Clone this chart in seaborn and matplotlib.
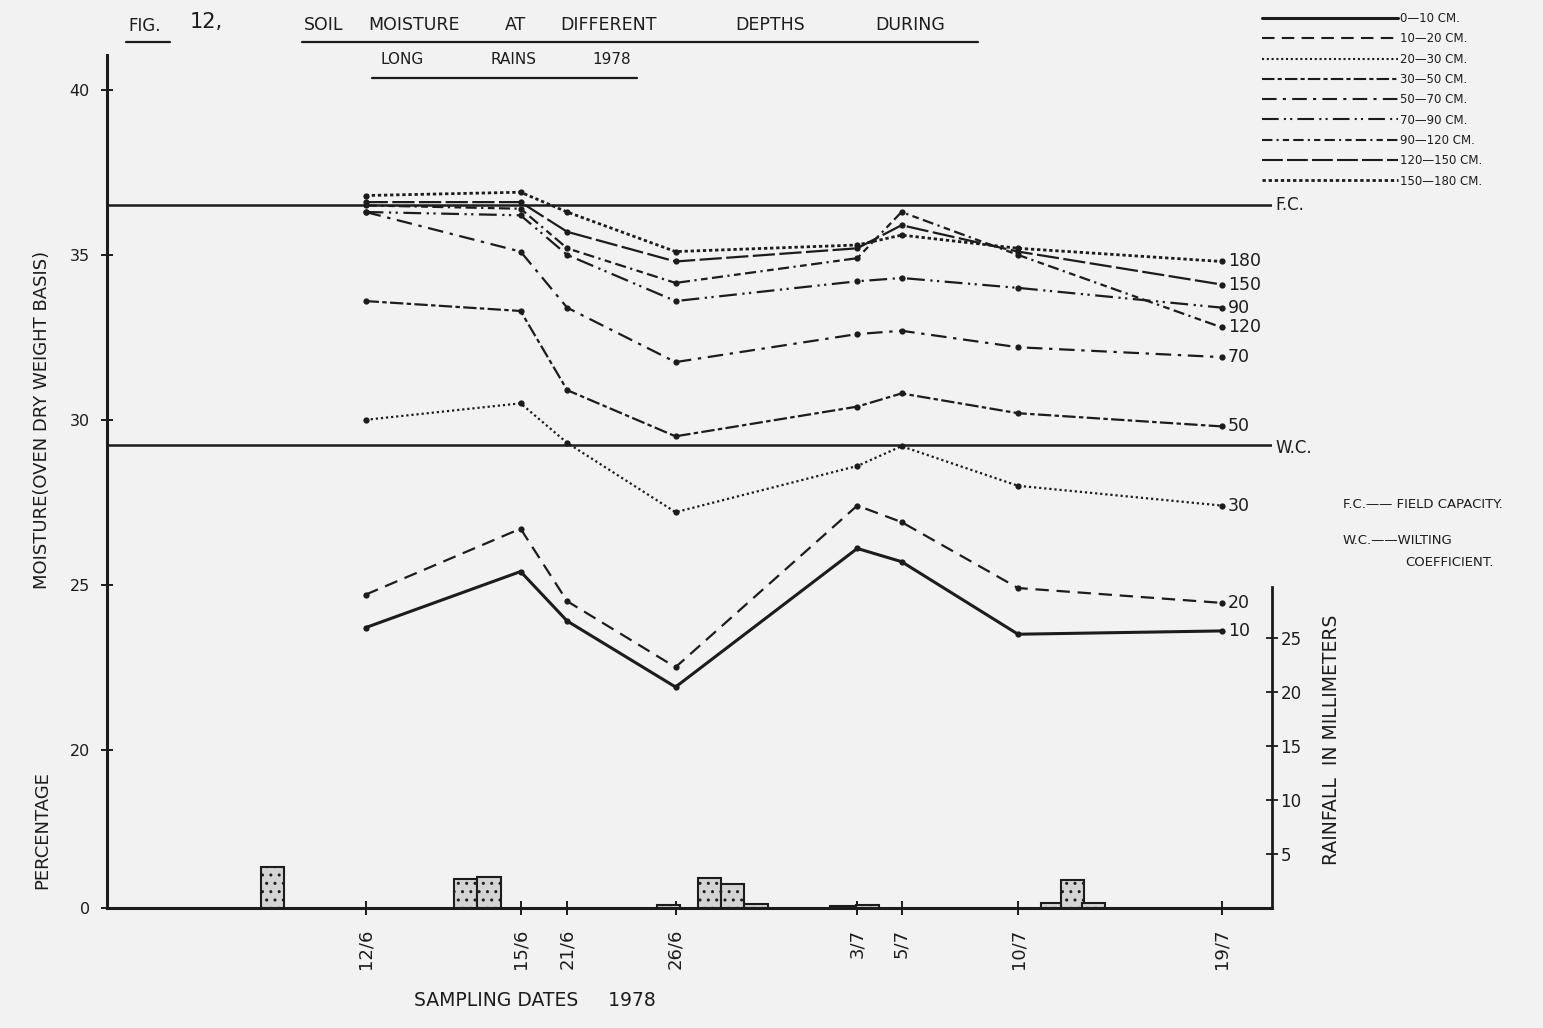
import numpy as np
import pandas as pd
import seaborn as sns
import matplotlib.pyplot as plt
from matplotlib.lines import Line2D

sns.set_theme(style="white")
plt.rcParams["font.family"] = ["DejaVu Sans"]

# sampling dates and where they sit along the hand-drawn date axis (0-100)
dates = ["12/6", "15/6", "21/6", "26/6", "3/7", "5/7", "10/7", "19/7"]
date_pos = [22.2, 35.5, 39.5, 48.8, 64.4, 68.2, 78.2, 95.7]

# percentage moisture at each depth
m_10 = [23.7, 25.4, 23.9, 21.9, 26.1, 25.7, 23.5, 23.6]
m_20 = [24.7, 26.7, 24.5, 22.5, 27.4, 26.9, 24.9, 24.45]
m_30 = [30.0, 30.5, 29.3, 27.2, 28.6, 29.2, 28.0, 27.4]
m_50 = [33.6, 33.3, 30.9, 29.5, 30.4, 30.8, 30.2, 29.8]
m_70 = [36.3, 35.1, 33.4, 31.75, 32.6, 32.7, 32.2, 31.9]
m_90 = [36.3, 36.2, 35.0, 33.6, 34.2, 34.3, 34.0, 33.4]
m_120 = [36.5, 36.4, 35.2, 34.15, 34.9, 36.3, 35.0, 32.8]
m_150 = [36.6, 36.6, 35.7, 34.8, 35.2, 35.9, 35.1, 34.1]
m_180 = [36.8, 36.9, 36.3, 35.1, 35.3, 35.6, 35.2, 34.8]

depths = ["0-10", "10-20", "20-30", "30-50", "50-70", "70-90", "90-120", "120-150", "150-180"]
legend_labels = ["0—10 CM.", "10—20 CM.", "20—30 CM.", "30—50 CM.", "50—70 CM.",
                 "70—90 CM.", "90—120 CM.", "120—150 CM.", "150—180 CM."]
end_labels = ["10", "20", "30", "50", "70", "90", "120", "150", "180"]

# daily rainfall (mm), left edge of each bar on the date axis
rain_pos = [13.2, 29.8, 31.8, 47.2, 50.7, 52.7, 54.7, 62.1, 64.3, 80.2, 81.9, 83.7]
rain_mm = [3.8, 2.7, 2.9, 0.25, 2.8, 2.2, 0.4, 0.2, 0.3, 0.5, 2.6, 0.5]

fc_level = 36.5
wc_level = 29.25

series = [m_10, m_20, m_30, m_50, m_70, m_90, m_120, m_150, m_180]
df = pd.DataFrame({
    "pos": date_pos * len(series),
    "moisture": np.concatenate(series),
    "depth": np.repeat(depths, len(date_pos)),
})

ink = "#1c1c1c"
paper = "#f2f2f2"
W, H = 1543, 1028


def px(x):
    return x / W


def py(y):
    return 1 - y / H


dash_map = {
    "0-10": "",
    "10-20": (6, 3.5),
    "20-30": (1, 1.3),
    "30-50": (6, 1.5, 2, 1.5),
    "50-70": (7, 3, 1.5, 3),
    "70-90": (8, 2.5, 1, 2, 1, 2.5),
    "90-120": (5, 2, 1, 2, 3, 2),
    "120-150": (10, 2),
    "150-180": (1.2, 1),
}
widths = {"0-10": 2.2, "150-180": 2.0}


# the moisture axis is squeezed below 20 %
def fwd(v):
    v = np.asarray(v, dtype=float)
    return np.where(v < 20, v * 0.24, v - 15.2)


def inv(u):
    u = np.asarray(u, dtype=float)
    return np.where(u < 4.8, u / 0.24, u + 15.2)


fig = plt.figure(figsize=(W / 100, H / 100), dpi=100, facecolor=paper)
ax = fig.add_axes([px(107), py(908), (1272 - 107) / W, (908 - 55) / H])
ax.set_facecolor(paper)
ax.set_yscale("function", functions=(fwd, inv))

sns.lineplot(data=df, x="pos", y="moisture", style="depth", style_order=depths,
             dashes=dash_map, markers={d: "o" for d in depths}, color=ink,
             linewidth=1.6, markersize=4.5, markeredgewidth=0, legend=False,
             sort=False, estimator=None, ax=ax)
for line, d in zip(ax.get_lines(), depths):
    line.set_linewidth(widths.get(d, 1.6))

ax.axhline(fc_level, color=ink, lw=1.8)
ax.axhline(wc_level, color=ink, lw=1.8)
ax.text(100.3, fc_level, "F.C.", va="center", ha="left", fontsize=12, color=ink, clip_on=False)
ax.text(100.3, wc_level - 0.1, "W.C.", va="center", ha="left", fontsize=12, color=ink, clip_on=False)

for lab, s in zip(end_labels, series):
    ax.text(96.2, s[-1], lab, va="center", ha="left", fontsize=12.5, color=ink, clip_on=False)

ax.set_xlim(0, 100)
ax.set_ylim(0, 41.06)
ax.set_yticks([0, 20, 25, 30, 35, 40])
ax.set_xticks(date_pos, dates, rotation=90)
ax.tick_params(axis="y", left=True, direction="inout", length=9, width=1.4,
               labelsize=11.5, pad=8, colors=ink)
ax.tick_params(axis="x", bottom=True, direction="inout", length=10, width=1.4,
               labelsize=13, pad=10, colors=ink)
ax.set_xlabel("")
ax.set_ylabel("")
for side in ["top", "right"]:
    ax.spines[side].set_visible(False)
for side in ["left", "bottom"]:
    ax.spines[side].set_color(ink)
    ax.spines[side].set_linewidth(2.2)

# rainfall on its own scale
ax2 = ax.twinx()
ax2.bar(rain_pos, rain_mm, width=2.0, align="edge", facecolor="#d4d4d4",
        edgecolor=ink, linewidth=1.5, hatch="..")
ax2.set_ylim(0, 79)
ax2.set_yticks([5, 10, 15, 20, 25])
ax2.spines["right"].set_bounds(0, 29.7)
ax2.spines["right"].set_color(ink)
ax2.spines["right"].set_linewidth(2.0)
for side in ["top", "left", "bottom"]:
    ax2.spines[side].set_visible(False)
ax2.tick_params(axis="y", right=True, direction="inout", length=8, width=1.3,
                labelsize=12, pad=2, colors=ink)
ax2.set_ylabel("RAINFALL  IN MILLIMETERS", fontsize=13.5, color=ink)
ax2.yaxis.set_label_coords(1.043, 0.197)

# titles and axis captions
fig.text(px(128), py(26), "FIG.", fontsize=12, color=ink, va="center")
fig.text(px(190), py(22), "12,", fontsize=15, color=ink, va="center")
for word, x in zip(["SOIL", "MOISTURE", "AT", "DIFFERENT", "DEPTHS", "DURING"],
                   [304, 368, 505, 560, 735, 875]):
    fig.text(px(x), py(25), word, fontsize=12.5, color=ink, va="center")
for word, x in zip(["LONG", "RAINS", "1978"], [380, 490, 592]):
    fig.text(px(x), py(60), word, fontsize=11, color=ink, va="center")
fig.add_artist(Line2D([px(126), px(170)], [py(42), py(42)], color=ink, lw=1.6))
fig.add_artist(Line2D([px(302), px(978)], [py(42), py(42)], color=ink, lw=1.6))
fig.add_artist(Line2D([px(372), px(637)], [py(78), py(78)], color=ink, lw=1.6))

fig.text(px(42), py(830), "PERCENTAGE", rotation=90,
         fontsize=13, color=ink, ha="center", va="center")
fig.text(px(42), py(420), "MOISTURE(OVEN DRY WEIGHT BASIS)", rotation=90,
         fontsize=13, color=ink, ha="center", va="center")
fig.text(px(535), py(1000), "SAMPLING DATES     1978", fontsize=13.5, color=ink,
         ha="center", va="center")

# key to the depth lines
handles = []
for d in depths:
    style = "-" if dash_map[d] == "" else (0, dash_map[d])
    handles.append(Line2D([], [], color=ink, lw=widths.get(d, 1.5), linestyle=style))
fig.legend(handles, legend_labels, loc="upper left", bbox_to_anchor=(px(1262), py(12)),
           frameon=False, fontsize=8.5, handlelength=11.5, handletextpad=0.2,
           labelspacing=0.62, borderaxespad=0, borderpad=0, labelcolor=ink)

fig.text(px(1343), py(505), "F.C.—— FIELD CAPACITY.", fontsize=9.5, color=ink, va="center")
fig.text(px(1343), py(540), "W.C.——WILTING", fontsize=9.5, color=ink, va="center")
fig.text(px(1405), py(562), "COEFFICIENT.", fontsize=9.5, color=ink, va="center")

fig.savefig("out.png", dpi=100, facecolor=paper)
